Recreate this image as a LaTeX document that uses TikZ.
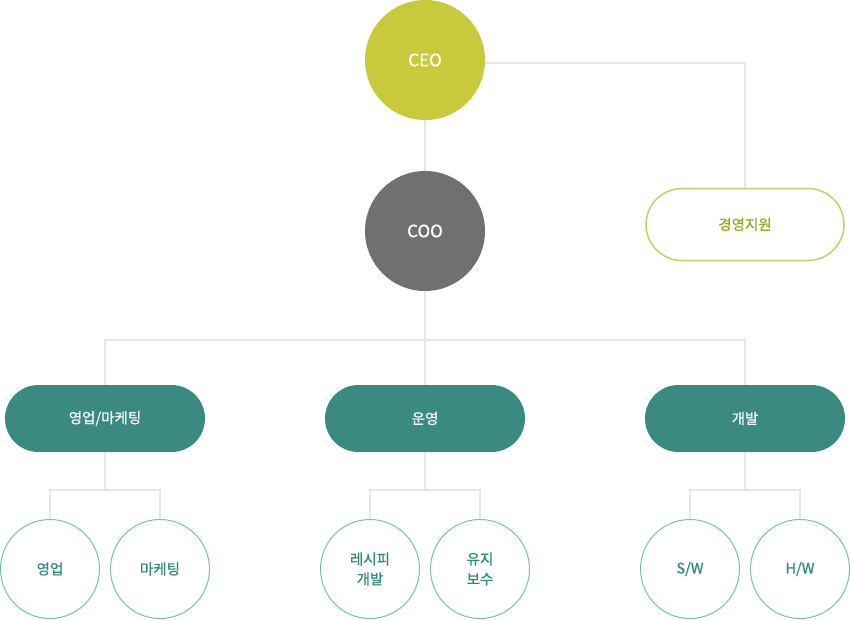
\documentclass[tikz,border=0pt]{standalone}
\usepackage{fontspec}
\setmainfont{Noto Sans CJK KR}[FakeBold=0.7]
\definecolor{ceoc}{HTML}{C8CA3C}
\definecolor{cooc}{HTML}{707070}
\definecolor{tealc}{HTML}{3A8A82}
\definecolor{linec}{HTML}{E6E6E6}
\definecolor{supb}{HTML}{C5CF6A}
\definecolor{supt}{HTML}{9AA51E}
\definecolor{subb}{HTML}{6DC5B9}
\definecolor{subt}{HTML}{2E8B80}
\begin{document}
\begin{tikzpicture}[x=1pt,y=-1pt,
  bigcirc/.style={circle,minimum size=120pt,inner sep=0pt,text=white,font=\fontsize{17}{20}\selectfont},
  deptbox/.style={rectangle,rounded corners=33.5pt,minimum width=200pt,minimum height=67pt,fill=tealc,text=white,font=\fontsize{14.5}{18}\selectfont},
  supbox/.style={rectangle,rounded corners=36pt,minimum width=198pt,minimum height=72pt,draw=supb,line width=1.5pt,fill=white,text=supt,font=\fontsize{14.5}{18}\selectfont},
  subcirc/.style={circle,minimum size=99pt,inner sep=0pt,draw=subb,line width=1pt,fill=white,text=subt,align=center,font=\fontsize{14.5}{20}\selectfont},
  conn/.style={draw=linec,line width=2pt}]
\useasboundingbox (0,0) rectangle (850,619);
\fill[white] (0,0) rectangle (850,619);
% nodes
\node[bigcirc,fill=ceoc] (ceo) at (425,60) {CEO};
\node[bigcirc,fill=cooc] (coo) at (425,231) {COO};
\node[supbox] (sup) at (745,224.5) {경영지원};
\node[deptbox] (sales) at (105,418.5) {영업/마케팅};
\node[deptbox] (ops) at (425,418.5) {운영};
\node[deptbox] (dev) at (745,418.5) {개발};
\node[subcirc] (s1) at (50,569) {영업};
\node[subcirc] (s2) at (160,569) {마케팅};
\node[subcirc] (o1) at (370,569) {레시피\\개발};
\node[subcirc] (o2) at (480,569) {유지\\보수};
\node[subcirc] (d1) at (690,569) {S/W};
\node[subcirc] (d2) at (800,569) {H/W};
% junctions
\coordinate (j0) at (425,340);
\coordinate (js) at (105,490);
\coordinate (jo) at (425,490);
\coordinate (jd) at (745,490);
% connectors
\path[conn] (ceo) -- (coo);
\path[conn] ([yshift=-3pt]ceo.east) -| (sup.north);
\path[conn] (coo) -- (j0);
\path[conn] (sales.north) |- (j0) -| (dev.north);
\path[conn] (j0) -- (ops.north);
\path[conn] (sales.south) -- (js);
\path[conn] (s1.north) |- (js) -| (s2.north);
\path[conn] (ops.south) -- (jo);
\path[conn] (o1.north) |- (jo) -| (o2.north);
\path[conn] (dev.south) -- (jd);
\path[conn] (d1.north) |- (jd) -| (d2.north);
\end{tikzpicture}
\end{document}
